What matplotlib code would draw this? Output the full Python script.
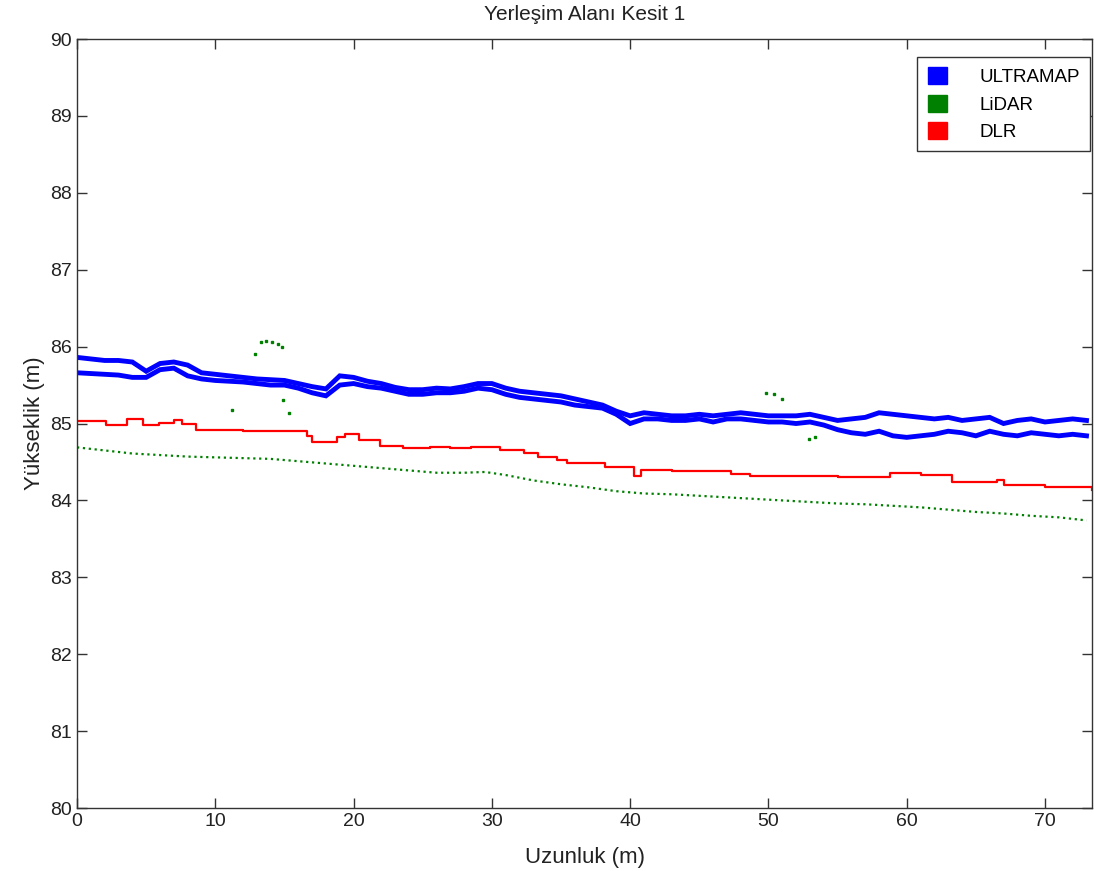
import matplotlib.pyplot as plt
from matplotlib.patches import Patch

plt.rcParams["font.family"] = ["Liberation Sans", "DejaVu Sans"]

# ULTRAMAP profile: two overlapping surface traces, sampled every 1 m
ultra_x = list(range(74))
ultra_upper = [
    85.86, 85.84, 85.82, 85.82, 85.80, 85.68, 85.78, 85.80, 85.76, 85.66,
    85.64, 85.62, 85.60, 85.58, 85.57, 85.56, 85.52, 85.48, 85.45, 85.62,
    85.60, 85.55, 85.52, 85.47, 85.44, 85.44, 85.46, 85.45, 85.48, 85.52,
    85.52, 85.46, 85.42, 85.40, 85.38, 85.36, 85.32, 85.28, 85.24, 85.16,
    85.10, 85.14, 85.12, 85.10, 85.10, 85.12, 85.10, 85.12, 85.14, 85.12,
    85.10, 85.10, 85.10, 85.12, 85.08, 85.04, 85.06, 85.08, 85.14, 85.12,
    85.10, 85.08, 85.06, 85.08, 85.04, 85.06, 85.08, 85.00, 85.04, 85.06,
    85.02, 85.04, 85.06, 85.04,
]
ultra_lower = [
    85.66, 85.65, 85.64, 85.63, 85.60, 85.60, 85.70, 85.72, 85.62, 85.58,
    85.56, 85.55, 85.54, 85.52, 85.50, 85.50, 85.46, 85.40, 85.36, 85.50,
    85.52, 85.48, 85.46, 85.42, 85.38, 85.38, 85.40, 85.40, 85.42, 85.46,
    85.44, 85.38, 85.34, 85.32, 85.30, 85.28, 85.24, 85.22, 85.20, 85.12,
    85.00, 85.06, 85.06, 85.04, 85.04, 85.06, 85.02, 85.06, 85.06, 85.04,
    85.02, 85.02, 85.00, 85.02, 84.98, 84.92, 84.88, 84.86, 84.90, 84.84,
    84.82, 84.84, 84.86, 84.90, 84.88, 84.84, 84.90, 84.86, 84.84, 84.88,
    84.86, 84.84, 84.86, 84.84,
]

# LiDAR ground profile
lidar_x = [0, 2, 4, 6, 8, 10, 12, 14, 16, 18, 20, 22, 24, 26, 28, 29.5, 31, 33,
           35, 37, 39, 41, 43, 45, 47, 49, 51, 53, 55, 57, 59, 61, 63, 65, 67,
           69, 71, 73]
lidar_z = [84.69, 84.65, 84.61, 84.59, 84.57, 84.56, 84.55, 84.54, 84.51, 84.48,
           84.45, 84.42, 84.39, 84.36, 84.36, 84.37, 84.33, 84.26, 84.21, 84.17,
           84.12, 84.09, 84.08, 84.06, 84.04, 84.02, 84.00, 83.98, 83.96, 83.95,
           83.93, 83.91, 83.88, 83.85, 83.83, 83.80, 83.78, 83.74]

# stray LiDAR returns (vegetation / walls)
lidar_out_x = [11.2, 12.9, 13.3, 13.7, 14.1, 14.5, 14.8, 14.9, 15.3,
               49.8, 50.4, 51.0, 52.9, 53.4]
lidar_out_z = [85.18, 85.90, 86.06, 86.07, 86.06, 86.03, 86.00, 85.31, 85.14,
               85.40, 85.38, 85.32, 84.80, 84.82]

# DLR surface model profile (raster cells -> step line)
dlr_x = [0, 2.1, 3.6, 4.8, 5.9, 7.0, 7.6, 8.6, 12.0, 16.6, 17.0, 18.8, 19.4,
         20.4, 21.9, 23.6, 25.5, 27.0, 28.5, 30.6, 32.3, 33.3, 34.7, 35.4,
         38.2, 40.3, 40.8, 43.0, 47.3, 48.7, 55.0, 58.8, 61.0, 63.3, 66.5,
         67.0, 70.0, 73.4]
dlr_z = [85.03, 84.98, 85.06, 84.98, 85.01, 85.05, 84.99, 84.92, 84.90, 84.84,
         84.76, 84.82, 84.86, 84.79, 84.71, 84.68, 84.70, 84.68, 84.70, 84.66,
         84.62, 84.56, 84.53, 84.49, 84.44, 84.32, 84.40, 84.38, 84.34, 84.32,
         84.30, 84.36, 84.33, 84.24, 84.26, 84.20, 84.18, 84.14]

BLUE = (0, 0, 1)
GREEN = (0, 0.5, 0)
RED = (1, 0, 0)
INK = "#333333"
TEXT = "#222222"

fig = plt.figure(figsize=(10.94, 8.71), dpi=100)
ax = fig.add_axes([0.0704, 0.0723, 0.9278, 0.8829])

ax.plot(ultra_x, ultra_upper, color=BLUE, lw=3.5, solid_joinstyle="miter")
ax.plot(ultra_x, ultra_lower, color=BLUE, lw=3.5, solid_joinstyle="miter")
ax.plot(lidar_x, lidar_z, color=GREEN, lw=1.6, ls=":")
ax.plot(lidar_out_x, lidar_out_z, ls="none", marker="s", ms=1.5, color=GREEN)
ax.plot(dlr_x, dlr_z, color=RED, lw=1.6, drawstyle="steps-post")

ax.set_xlim(0, 73.4)
ax.set_ylim(80, 90)
ax.set_xticks(range(0, 71, 10))
ax.set_yticks(range(80, 91))
ax.tick_params(direction="in", length=7, top=True, right=True,
               labelsize=14, width=1, colors=INK, labelcolor=TEXT)
for s in ax.spines.values():
    s.set_linewidth(1)
    s.set_color(INK)

ax.set_xlabel("Uzunluk (m)", fontsize=16, labelpad=12, color=TEXT)
ax.set_ylabel("Yükseklik (m)", fontsize=16, labelpad=4, color=TEXT)
ax.set_title("Yerleşim Alanı Kesit 1", fontsize=15, pad=14, color=TEXT)

handles = [Patch(color=BLUE, label="ULTRAMAP"),
           Patch(color=GREEN, label="LiDAR"),
           Patch(color=RED, label="DLR")]
leg = ax.legend(handles=handles, loc="upper right",
                bbox_to_anchor=(0.998, 0.977), borderaxespad=0,
                fontsize=13.5, handlelength=1.05, handleheight=1.05,
                fancybox=False, framealpha=1, edgecolor=INK,
                handletextpad=1.7, labelspacing=0.45, borderpad=0.55)
leg.get_frame().set_linewidth(1)

fig.savefig("out.png", dpi=100)
